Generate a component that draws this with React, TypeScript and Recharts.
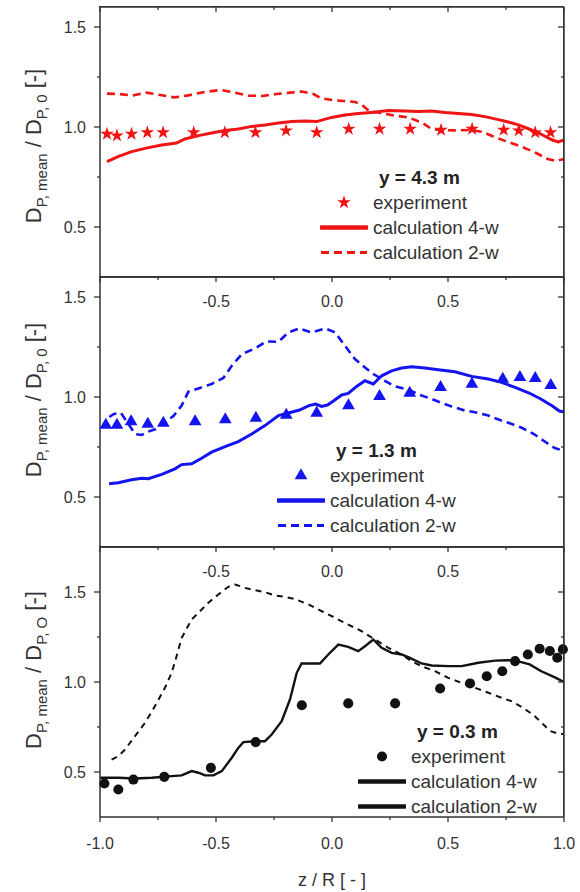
import React from "react"
import {
  ComposedChart,
  Line,
  Scatter,
  XAxis,
  YAxis,
  ZAxis,
  Legend,
  Symbols,
} from "recharts"

// ---- data (z/R and D_P,mean / D_P,0) ----

const xTicks = [-1, -0.75, -0.5, -0.25, 0, 0.25, 0.5, 0.75, 1]
const yTicks = [0.5, 0.75, 1.0, 1.25, 1.5]

// y = 4.3 m
const topExpZ = [-0.97, -0.927, -0.864, -0.796, -0.728, -0.596, -0.462, -0.33, -0.198, -0.066, 0.072, 0.205, 0.337, 0.47, 0.604, 0.74, 0.805, 0.876, 0.942]
const topExpV = [0.965, 0.957, 0.965, 0.973, 0.973, 0.973, 0.973, 0.973, 0.982, 0.973, 0.99, 0.99, 0.99, 0.985, 0.99, 0.985, 0.982, 0.973, 0.973]
const topCalc4Z = [-0.97, -0.92, -0.863, -0.806, -0.734, -0.67, -0.634, -0.576, -0.519, -0.461, -0.404, -0.346, -0.289, -0.231, -0.174, -0.116, -0.066, -0.002, 0.056, 0.113, 0.171, 0.243, 0.314, 0.372, 0.429, 0.487, 0.544, 0.602, 0.659, 0.717, 0.76, 0.8, 0.85, 0.9, 0.95, 0.975, 1.0]
const topCalc4V = [0.827, 0.853, 0.877, 0.893, 0.91, 0.92, 0.94, 0.957, 0.97, 0.982, 0.99, 1.003, 1.01, 1.02, 1.028, 1.03, 1.027, 1.048, 1.06, 1.067, 1.073, 1.082, 1.08, 1.078, 1.08, 1.073, 1.068, 1.063, 1.052, 1.037, 1.025, 1.012, 0.99, 0.965, 0.935, 0.925, 0.935]
const topCalc2Z = [-0.97, -0.92, -0.86, -0.8, -0.74, -0.68, -0.62, -0.55, -0.48, -0.42, -0.36, -0.3, -0.24, -0.18, -0.13, -0.08, -0.05, 0.0, 0.05, 0.1, 0.13, 0.16, 0.21, 0.27, 0.33, 0.39, 0.43, 0.47, 0.53, 0.6, 0.65, 0.7, 0.76, 0.82, 0.88, 0.93, 0.965, 1.0]
const topCalc2V = [1.167, 1.165, 1.157, 1.172, 1.16, 1.148, 1.158, 1.175, 1.185, 1.172, 1.157, 1.155, 1.165, 1.172, 1.177, 1.165, 1.145, 1.135, 1.13, 1.125, 1.11, 1.08, 1.07, 1.057, 1.048, 1.02, 0.99, 0.985, 0.983, 0.985, 0.975, 0.95, 0.925, 0.9, 0.87, 0.84, 0.83, 0.84]

// y = 1.3 m
const midExpZ = [-0.975, -0.927, -0.866, -0.794, -0.727, -0.59, -0.46, -0.328, -0.197, -0.066, 0.071, 0.205, 0.335, 0.468, 0.603, 0.736, 0.81, 0.876, 0.943]
const midExpV = [0.86, 0.86, 0.877, 0.865, 0.87, 0.877, 0.887, 0.895, 0.91, 0.919, 0.957, 1.003, 1.02, 1.048, 1.065, 1.09, 1.098, 1.093, 1.058]
const midCalc4Z = [-0.961, -0.921, -0.864, -0.82, -0.792, -0.734, -0.677, -0.648, -0.605, -0.562, -0.519, -0.461, -0.404, -0.346, -0.289, -0.231, -0.188, -0.14, -0.1, -0.07, -0.045, -0.02, 0.0, 0.042, 0.07, 0.106, 0.142, 0.178, 0.214, 0.257, 0.3, 0.343, 0.401, 0.458, 0.53, 0.602, 0.674, 0.731, 0.789, 0.85, 0.9, 0.95, 0.98, 1.0]
const midCalc4V = [0.566, 0.571, 0.586, 0.594, 0.591, 0.613, 0.641, 0.662, 0.666, 0.694, 0.724, 0.752, 0.777, 0.815, 0.857, 0.907, 0.92, 0.935, 0.957, 0.965, 0.953, 0.96, 0.975, 1.01, 1.018, 1.053, 1.081, 1.065, 1.106, 1.131, 1.145, 1.151, 1.145, 1.136, 1.126, 1.103, 1.09, 1.073, 1.048, 1.02, 0.99, 0.955, 0.93, 0.925]
const midCalc2Z = [-0.96, -0.94, -0.91, -0.88, -0.849, -0.82, -0.792, -0.76, -0.734, -0.684, -0.648, -0.619, -0.576, -0.519, -0.468, -0.432, -0.389, -0.332, -0.282, -0.231, -0.188, -0.141, -0.088, -0.03, 0.013, 0.056, 0.099, 0.142, 0.178, 0.228, 0.272, 0.329, 0.379, 0.43, 0.473, 0.516, 0.573, 0.616, 0.674, 0.731, 0.775, 0.82, 0.87, 0.92, 0.96, 1.0]
const midCalc2V = [0.9, 0.915, 0.92, 0.87, 0.815, 0.81, 0.827, 0.84, 0.865, 0.904, 0.957, 1.027, 1.043, 1.065, 1.095, 1.156, 1.214, 1.243, 1.278, 1.276, 1.323, 1.343, 1.323, 1.343, 1.323, 1.256, 1.19, 1.148, 1.115, 1.081, 1.053, 1.037, 1.01, 0.99, 0.97, 0.953, 0.932, 0.924, 0.907, 0.882, 0.865, 0.845, 0.815, 0.775, 0.745, 0.73]

// y = 0.3 m
const botExpZ = [-0.981, -0.921, -0.856, -0.723, -0.522, -0.329, -0.13, 0.07, 0.272, 0.466, 0.595, 0.667, 0.734, 0.789, 0.844, 0.895, 0.939, 0.971, 0.995]
const botExpV = [0.436, 0.403, 0.458, 0.473, 0.523, 0.666, 0.871, 0.881, 0.881, 0.964, 0.992, 1.032, 1.06, 1.116, 1.153, 1.185, 1.172, 1.135, 1.181]
const botCalc4Z = [-1.0, -0.921, -0.849, -0.777, -0.691, -0.648, -0.605, -0.576, -0.547, -0.511, -0.475, -0.432, -0.404, -0.382, -0.332, -0.289, -0.26, -0.217, -0.181, -0.152, -0.131, -0.052, -0.016, 0.027, 0.07, 0.113, 0.142, 0.178, 0.214, 0.257, 0.3, 0.336, 0.386, 0.43, 0.501, 0.559, 0.631, 0.703, 0.76, 0.8, 0.852, 0.9, 0.963, 1.0]
const botCalc4V = [0.468, 0.468, 0.464, 0.468, 0.477, 0.481, 0.505, 0.496, 0.481, 0.481, 0.505, 0.579, 0.634, 0.666, 0.671, 0.671, 0.708, 0.782, 0.903, 1.051, 1.103, 1.103, 1.153, 1.208, 1.195, 1.171, 1.199, 1.236, 1.19, 1.162, 1.153, 1.134, 1.103, 1.092, 1.088, 1.088, 1.107, 1.119, 1.121, 1.116, 1.098, 1.061, 1.024, 1.0]
const botCalc2Z = [-0.95, -0.921, -0.892, -0.849, -0.806, -0.763, -0.72, -0.691, -0.67, -0.648, -0.605, -0.569, -0.533, -0.49, -0.447, -0.418, -0.375, -0.332, -0.289, -0.246, -0.203, -0.159, -0.102, -0.044, 0.013, 0.07, 0.128, 0.185, 0.243, 0.3, 0.343, 0.386, 0.444, 0.501, 0.559, 0.616, 0.674, 0.731, 0.774, 0.82, 0.87, 0.91, 0.94, 0.97, 1.0]
const botCalc2V = [0.569, 0.588, 0.625, 0.699, 0.773, 0.866, 0.968, 1.051, 1.143, 1.245, 1.347, 1.393, 1.44, 1.486, 1.529, 1.542, 1.523, 1.51, 1.499, 1.481, 1.473, 1.46, 1.431, 1.393, 1.357, 1.319, 1.282, 1.236, 1.19, 1.153, 1.116, 1.088, 1.06, 1.023, 0.995, 0.968, 0.94, 0.912, 0.893, 0.86, 0.815, 0.765, 0.728, 0.715, 0.71]

const zip = (zs: number[], vs: number[]) => zs.map((z, i) => ({ z, v: vs[i] }))

// ---- styling ----

const AXIS = "#333"
const FONT = "'Liberation Sans', Arial, Helvetica, sans-serif"
const PLOT_LEFT = 100
const PLOT_W = 464
const PLOT_H = 270

const isMajor = (v: number) => Math.abs(v * 2 - Math.round(v * 2)) < 1e-6
const fmt = (v: number) => v.toFixed(1)

const LeftTick = ({ x, y, payload }: any) => {
  const major = isMajor(payload.value)
  return (
    <g>
      <line x1={x - (major ? 6 : 3)} x2={x} y1={y} y2={y} stroke={AXIS} strokeWidth={1.3} />
      {major && (
        <text x={x - 14} y={y + 5.5} textAnchor="end" fontFamily={FONT} fontSize={16} fill="#333">
          {fmt(payload.value)}
        </text>
      )}
    </g>
  )
}

const RightTick = ({ x, y, payload }: any) => {
  const len = isMajor(payload.value) ? 6 : 3
  return <line x1={x - len} x2={x} y1={y} y2={y} stroke={AXIS} strokeWidth={1.3} />
}

const TopTick = ({ x, y, payload, labels }: any) => {
  const major = isMajor(payload.value)
  return (
    <g>
      <line x1={x} x2={x} y1={y} y2={y + (major ? 5 : 3)} stroke={AXIS} strokeWidth={1.3} />
      {labels && major && Math.abs(payload.value) < 1 && (
        <text x={x} y={y + 30} textAnchor="middle" fontFamily={FONT} fontSize={16} fill="#333">
          {fmt(payload.value)}
        </text>
      )}
    </g>
  )
}

const BottomTick = ({ x, y, payload }: any) => {
  const major = isMajor(payload.value)
  return (
    <g>
      <line x1={x} x2={x} y1={y} y2={y + (major ? 5 : 3)} stroke={AXIS} strokeWidth={1.3} />
      {major && (
        <text x={x} y={y + 31.5} textAnchor="middle" fontFamily={FONT} fontSize={16} fill="#333">
          {fmt(payload.value)}
        </text>
      )}
    </g>
  )
}

const YTitle = ({ titleCy, sub }: { titleCy: number; sub: string }) => {
  const x = 41
  return (
    <text
      x={x}
      y={titleCy}
      transform={`rotate(-90, ${x}, ${titleCy})`}
      textAnchor="middle"
      style={{ fontFamily: FONT, fontSize: 22, fill: "#333" }}
    >
      D
      <tspan fontSize={15} dy={6}>P, mean</tspan>
      <tspan dy={-6}> / D</tspan>
      <tspan fontSize={15} dy={6}>{sub}</tspan>
      <tspan dy={-6}> [-]</tspan>
    </text>
  )
}

const XTitle = ({ titleY }: { titleY: number }) => (
  <text x={332} y={titleY} textAnchor="middle" style={{ fontFamily: FONT, fontSize: 18, fill: "#333" }}>
    z / R [ - ]
  </text>
)

interface LegendProps {
  title: string
  color: string
  shape: any
  size: number
  dash2: boolean
}

const PanelLegend = ({ title, color, shape, size, dash2 }: LegendProps) => {
  const row = { display: "flex", alignItems: "center", height: 25 } as const
  return (
    <div style={{ fontFamily: FONT, fontSize: 19, color: "#333", lineHeight: "25px", whiteSpace: "nowrap" }}>
      <div style={{ paddingLeft: 59, fontWeight: "bold", color: "#222", height: 25 }}>{title}</div>
      <div style={row}>
        <svg width={48} height={25} style={{ marginRight: 5 }}>
          <Symbols cx={24} cy={12.5} type={shape} size={size} fill={color} />
        </svg>
        <span>experiment</span>
      </div>
      <div style={row}>
        <svg width={48} height={25} style={{ marginRight: 5 }}>
          <line x1={1} x2={47} y1={12.5} y2={12.5} stroke={color} strokeWidth={4.5} strokeLinecap="round" />
        </svg>
        <span>calculation 4-w</span>
      </div>
      <div style={row}>
        <svg width={48} height={25} style={{ marginRight: 5 }}>
          <line
            x1={1}
            x2={47}
            y1={12.5}
            y2={12.5}
            stroke={color}
            strokeWidth={dash2 ? 3 : 4.5}
            strokeDasharray={dash2 ? "8 5" : undefined}
            strokeLinecap={dash2 ? "butt" : "round"}
          />
        </svg>
        <span>calculation 2-w</span>
      </div>
    </div>
  )
}

interface PanelProps {
  height: number
  top: number
  marginTop: number
  marginBottom: number
  yMax: number
  topLabels: boolean
  bottomLabels: boolean
  exp: { z: number; v: number }[]
  calc4: { z: number; v: number }[]
  calc2: { z: number; v: number }[]
  color: string
  shape: any
  size: number
  lineWidth: number
  dash: string
  legendDash: boolean
  title: string
  legendTop: number
  legendLeft: number
  yTitleCy: number
  yTitleSub: string
  xTitleY?: number
}

// axes get 1px of room: a zero-sized axis is not drawn at all.
// the top/right axes only show up when a series is bound to them,
// so a fully transparent copy of the experiment series is attached there.
// the top and right edges of the box are a plain bordered div over the plot.
const Panel = (p: PanelProps) => (
  <div style={{ position: "absolute", top: p.top, left: 0 }}>
    <ComposedChart
      width={580}
      height={p.height}
      margin={{ top: p.marginTop, right: 15, bottom: p.marginBottom, left: 0 }}
    >
      <XAxis
        dataKey="z"
        type="number"
        domain={[-1, 1]}
        ticks={xTicks}
        interval={0}
        height={1}
        tickSize={0}
        tickMargin={0}
        axisLine={{ stroke: AXIS, strokeWidth: 1.5 }}
        tickLine={false}
        tick={p.bottomLabels ? (t: any) => <BottomTick {...t} /> : false}
        label={p.xTitleY ? <XTitle titleY={p.xTitleY} /> : undefined}
      />
      <XAxis
        xAxisId="t"
        dataKey="z"
        orientation="top"
        type="number"
        domain={[-1, 1]}
        allowDataOverflow
        ticks={xTicks}
        interval={0}
        height={1}
        tickSize={0}
        tickMargin={0}
        axisLine={{ stroke: AXIS, strokeWidth: 1.5 }}
        tickLine={false}
        tick={(t: any) => <TopTick {...t} labels={p.topLabels} />}
      />
      <YAxis
        type="number"
        domain={[0.25, p.yMax]}
        ticks={yTicks}
        interval={0}
        width={100}
        tickSize={0}
        tickMargin={0}
        axisLine={{ stroke: AXIS, strokeWidth: 1.5 }}
        tickLine={false}
        tick={(t: any) => <LeftTick {...t} />}
        label={<YTitle titleCy={p.yTitleCy} sub={p.yTitleSub} />}
      />
      <YAxis
        yAxisId="r"
        dataKey="v"
        orientation="right"
        type="number"
        domain={[0.25, p.yMax]}
        allowDataOverflow
        ticks={yTicks}
        interval={0}
        width={1}
        tickSize={0}
        tickMargin={0}
        axisLine={{ stroke: AXIS, strokeWidth: 1.5 }}
        tickLine={false}
        tick={(t: any) => <RightTick {...t} />}
      />
      <ZAxis range={[p.size, p.size]} />
      <Line
        data={p.exp}
        dataKey="v"
        xAxisId="t"
        yAxisId="r"
        stroke="#fff"
        strokeOpacity={0}
        dot={false}
        activeDot={false}
        legendType="none"
        isAnimationActive={false}
      />
      <Line
        data={p.calc2}
        dataKey="v"
        type="linear"
        stroke={p.color}
        strokeWidth={p.lineWidth - 0.4}
        strokeDasharray={p.dash}
        dot={false}
        isAnimationActive={false}
      />
      <Line
        data={p.calc4}
        dataKey="v"
        type="linear"
        stroke={p.color}
        strokeWidth={p.lineWidth}
        dot={false}
        isAnimationActive={false}
      />
      <Scatter data={p.exp} dataKey="v" shape={p.shape} fill={p.color} isAnimationActive={false} />
      <Legend
        verticalAlign="middle"
        align="center"
        layout="horizontal"
        wrapperStyle={{ top: p.legendTop, left: p.legendLeft, width: "auto" }}
        content={() => (
          <PanelLegend title={p.title} color={p.color} shape={p.shape} size={p.size} dash2={p.legendDash} />
        )}
      />
    </ComposedChart>
    <div
      style={{
        position: "absolute",
        top: p.marginTop + 1 - 0.75,
        left: PLOT_LEFT - 0.75,
        width: PLOT_W,
        height: PLOT_H,
        borderTop: `1.5px solid ${AXIS}`,
        borderRight: `1.5px solid ${AXIS}`,
        pointerEvents: "none",
      }}
    />
  </div>
)

export default function App() {
  return (
    <div style={{ position: "absolute", top: 0, left: 0, width: 580, height: 892, background: "#fff" }}>
      <Panel
        height={278}
        top={0}
        marginTop={6}
        marginBottom={0}
        yMax={1.6}
        topLabels={false}
        bottomLabels={false}
        exp={zip(topExpZ, topExpV)}
        calc4={zip(topCalc4Z, topCalc4V)}
        calc2={zip(topCalc2Z, topCalc2V)}
        color="#f01414"
        shape="star"
        size={58}
        lineWidth={3}
        dash="8 5"
        legendDash={true}
        title="y = 4.3 m"
        legendTop={164.5}
        legendLeft={320}
        yTitleCy={146}
        yTitleSub="P, 0"
      />
      <Panel
        height={272}
        top={276}
        marginTop={0}
        marginBottom={0}
        yMax={1.6}
        topLabels={true}
        bottomLabels={false}
        exp={zip(midExpZ, midExpV)}
        calc4={zip(midCalc4Z, midCalc4V)}
        calc2={zip(midCalc2Z, midCalc2V)}
        color="#1414f0"
        shape="triangle"
        size={70}
        lineWidth={3}
        dash="8 5"
        legendDash={true}
        title="y = 1.3 m"
        legendTop={161.5}
        legendLeft={277}
        yTitleCy={124}
        yTitleSub="P, 0"
      />
      <Panel
        height={347}
        top={546}
        marginTop={0}
        marginBottom={75}
        yMax={1.75}
        topLabels={true}
        bottomLabels={true}
        exp={zip(botExpZ, botExpV)}
        calc4={zip(botCalc4Z, botCalc4V)}
        calc2={zip(botCalc2Z, botCalc2V)}
        color="#111"
        shape="circle"
        size={80}
        lineWidth={2.4}
        dash="6 5"
        legendDash={false}
        title="y = 0.3 m"
        legendTop={172.5}
        legendLeft={358}
        yTitleCy={124}
        yTitleSub="P, O"
        xTitleY={340}
      />
    </div>
  )
}
